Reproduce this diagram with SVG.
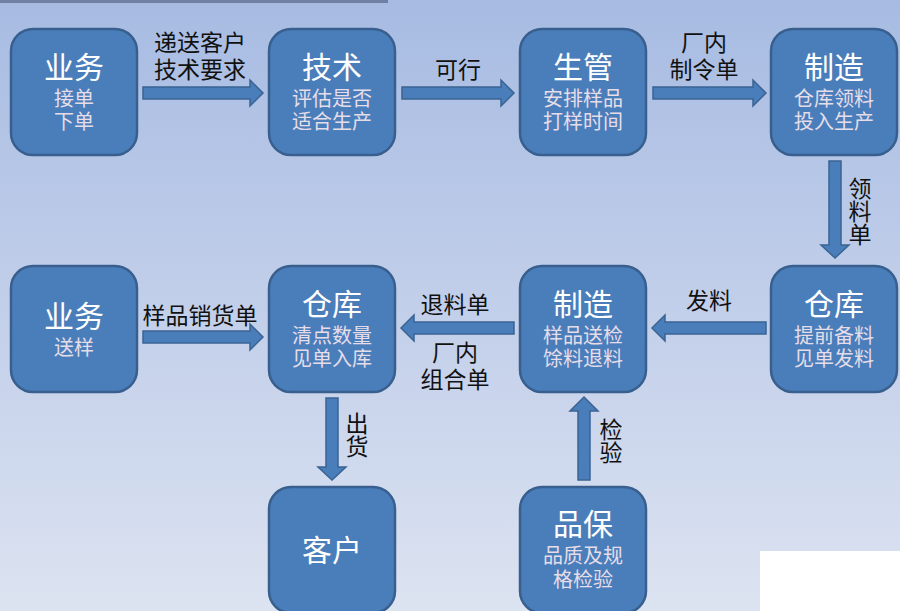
<svg xmlns="http://www.w3.org/2000/svg" width="900" height="611" viewBox="0 0 900 611">
<defs>
<linearGradient id="bg" x1="0" y1="0" x2="0" y2="1">
<stop offset="0" stop-color="#a7bbe2"/>
<stop offset="0.5" stop-color="#c2cfea"/>
<stop offset="1" stop-color="#dce3f1"/>
</linearGradient>
</defs>
<style>
.box{fill:#4a7ebb;stroke:#385f8e;stroke-width:2.5}
.arr{fill:#4a7ebb;stroke:#3a6392;stroke-width:1.5;stroke-linejoin:miter}
.n{font-family:"Noto Sans CJK SC","Noto Sans",sans-serif;text-anchor:middle}
.t{fill:#ffffff;font-size:30px}
.s{fill:#e6dde8;font-size:20px}
.l{font-family:"Noto Sans CJK SC","Noto Sans",sans-serif;fill:#111111;font-size:23px;text-anchor:middle}
.v{font-family:"Noto Sans CJK SC","Noto Sans",sans-serif;fill:#111111;font-size:23px;text-anchor:middle;writing-mode:vertical-rl}
</style>
<rect x="0" y="0" width="900" height="611" fill="url(#bg)"/>
<rect x="0" y="0" width="388" height="3" fill="#6f80a4"/>
<rect x="760" y="551" width="140" height="60" fill="#ffffff"/>

<g id="connectors">
<path class="arr" d="M143,87 H250 V80 L263,93 L250,106 V99 H143 Z"/>
<path class="arr" d="M402,87 H501 V80 L514,93 L501,106 V99 H402 Z"/>
<path class="arr" d="M653,87 H753 V80 L766,93 L753,106 V99 H653 Z"/>
<path class="arr" d="M829,161 H841 V245 H849 L835,258 L821,245 H829 Z"/>
<path class="arr" d="M766,322 H665 V315 L652,328 L665,341 V334 H766 Z"/>
<path class="arr" d="M514,322 H414 V315 L401,328 L414,341 V334 H514 Z"/>
<path class="arr" d="M143,331 H250 V324 L263,337 L250,350 V343 H143 Z"/>
<path class="arr" d="M326,398 H338 V467 H346 L332,480 L318,467 H326 Z"/>
<path class="arr" d="M578,480 H590 V411 H598 L584,397 L570,411 H578 Z"/>
<text class="l" x="200" y="51">递送客户<tspan x="200" dy="27">技术要求</tspan></text>
<text class="l" x="458" y="78">可行</text>
<text class="l" x="704" y="51">厂内<tspan x="704" dy="27">制令单</tspan></text>
<text class="v" x="860" y="211">领料单</text>
<text class="l" x="709" y="309">发料</text>
<text class="l" x="455" y="313">退料单</text>
<text class="l" x="455" y="361">厂内<tspan x="455" dy="27">组合单</tspan></text>
<text class="l" x="200" y="324">样品销货单</text>
<text class="v" x="357" y="435">出货</text>
<text class="v" x="611" y="441">检验</text>
</g>

<g id="n1">
<rect class="box" x="11" y="29" width="126" height="126" rx="22"/>
<text class="n" x="74" y="78"><tspan class="t">业务</tspan><tspan class="s" x="74" dy="28">接单</tspan><tspan class="s" x="74" dy="23">下单</tspan></text>
</g>
<g id="n2">
<rect class="box" x="269" y="29" width="126" height="126" rx="22"/>
<text class="n" x="332" y="78"><tspan class="t">技术</tspan><tspan class="s" x="332" dy="28">评估是否</tspan><tspan class="s" x="332" dy="23">适合生产</tspan></text>
</g>
<g id="n3">
<rect class="box" x="520" y="29" width="126" height="126" rx="22"/>
<text class="n" x="583" y="78"><tspan class="t">生管</tspan><tspan class="s" x="583" dy="28">安排样品</tspan><tspan class="s" x="583" dy="23">打样时间</tspan></text>
</g>
<g id="n4">
<rect class="box" x="771" y="29" width="126" height="126" rx="22"/>
<text class="n" x="834" y="78"><tspan class="t">制造</tspan><tspan class="s" x="834" dy="28">仓库领料</tspan><tspan class="s" x="834" dy="23">投入生产</tspan></text>
</g>
<g id="n5">
<rect class="box" x="11" y="266" width="126" height="126" rx="22"/>
<text class="n" x="74" y="327"><tspan class="t">业务</tspan><tspan class="s" x="74" dy="28">送样</tspan></text>
</g>
<g id="n6">
<rect class="box" x="269" y="266" width="126" height="126" rx="22"/>
<text class="n" x="332" y="315"><tspan class="t">仓库</tspan><tspan class="s" x="332" dy="28">清点数量</tspan><tspan class="s" x="332" dy="23">见单入库</tspan></text>
</g>
<g id="n7">
<rect class="box" x="520" y="266" width="126" height="126" rx="22"/>
<text class="n" x="583" y="315"><tspan class="t">制造</tspan><tspan class="s" x="583" dy="28">样品送检</tspan><tspan class="s" x="583" dy="23">馀料退料</tspan></text>
</g>
<g id="n8">
<rect class="box" x="771" y="266" width="126" height="126" rx="22"/>
<text class="n" x="834" y="315"><tspan class="t">仓库</tspan><tspan class="s" x="834" dy="28">提前备料</tspan><tspan class="s" x="834" dy="23">见单发料</tspan></text>
</g>
<g id="n9">
<rect class="box" x="269" y="487" width="126" height="126" rx="22"/>
<text class="n t" x="332" y="561">客户</text>
</g>
<g id="n10">
<rect class="box" x="520" y="487" width="126" height="126" rx="22"/>
<text class="n" x="583" y="535"><tspan class="t">品保</tspan><tspan class="s" x="583" dy="28">品质及规</tspan><tspan class="s" x="583" dy="24">格检验</tspan></text>
</g>
</svg>
